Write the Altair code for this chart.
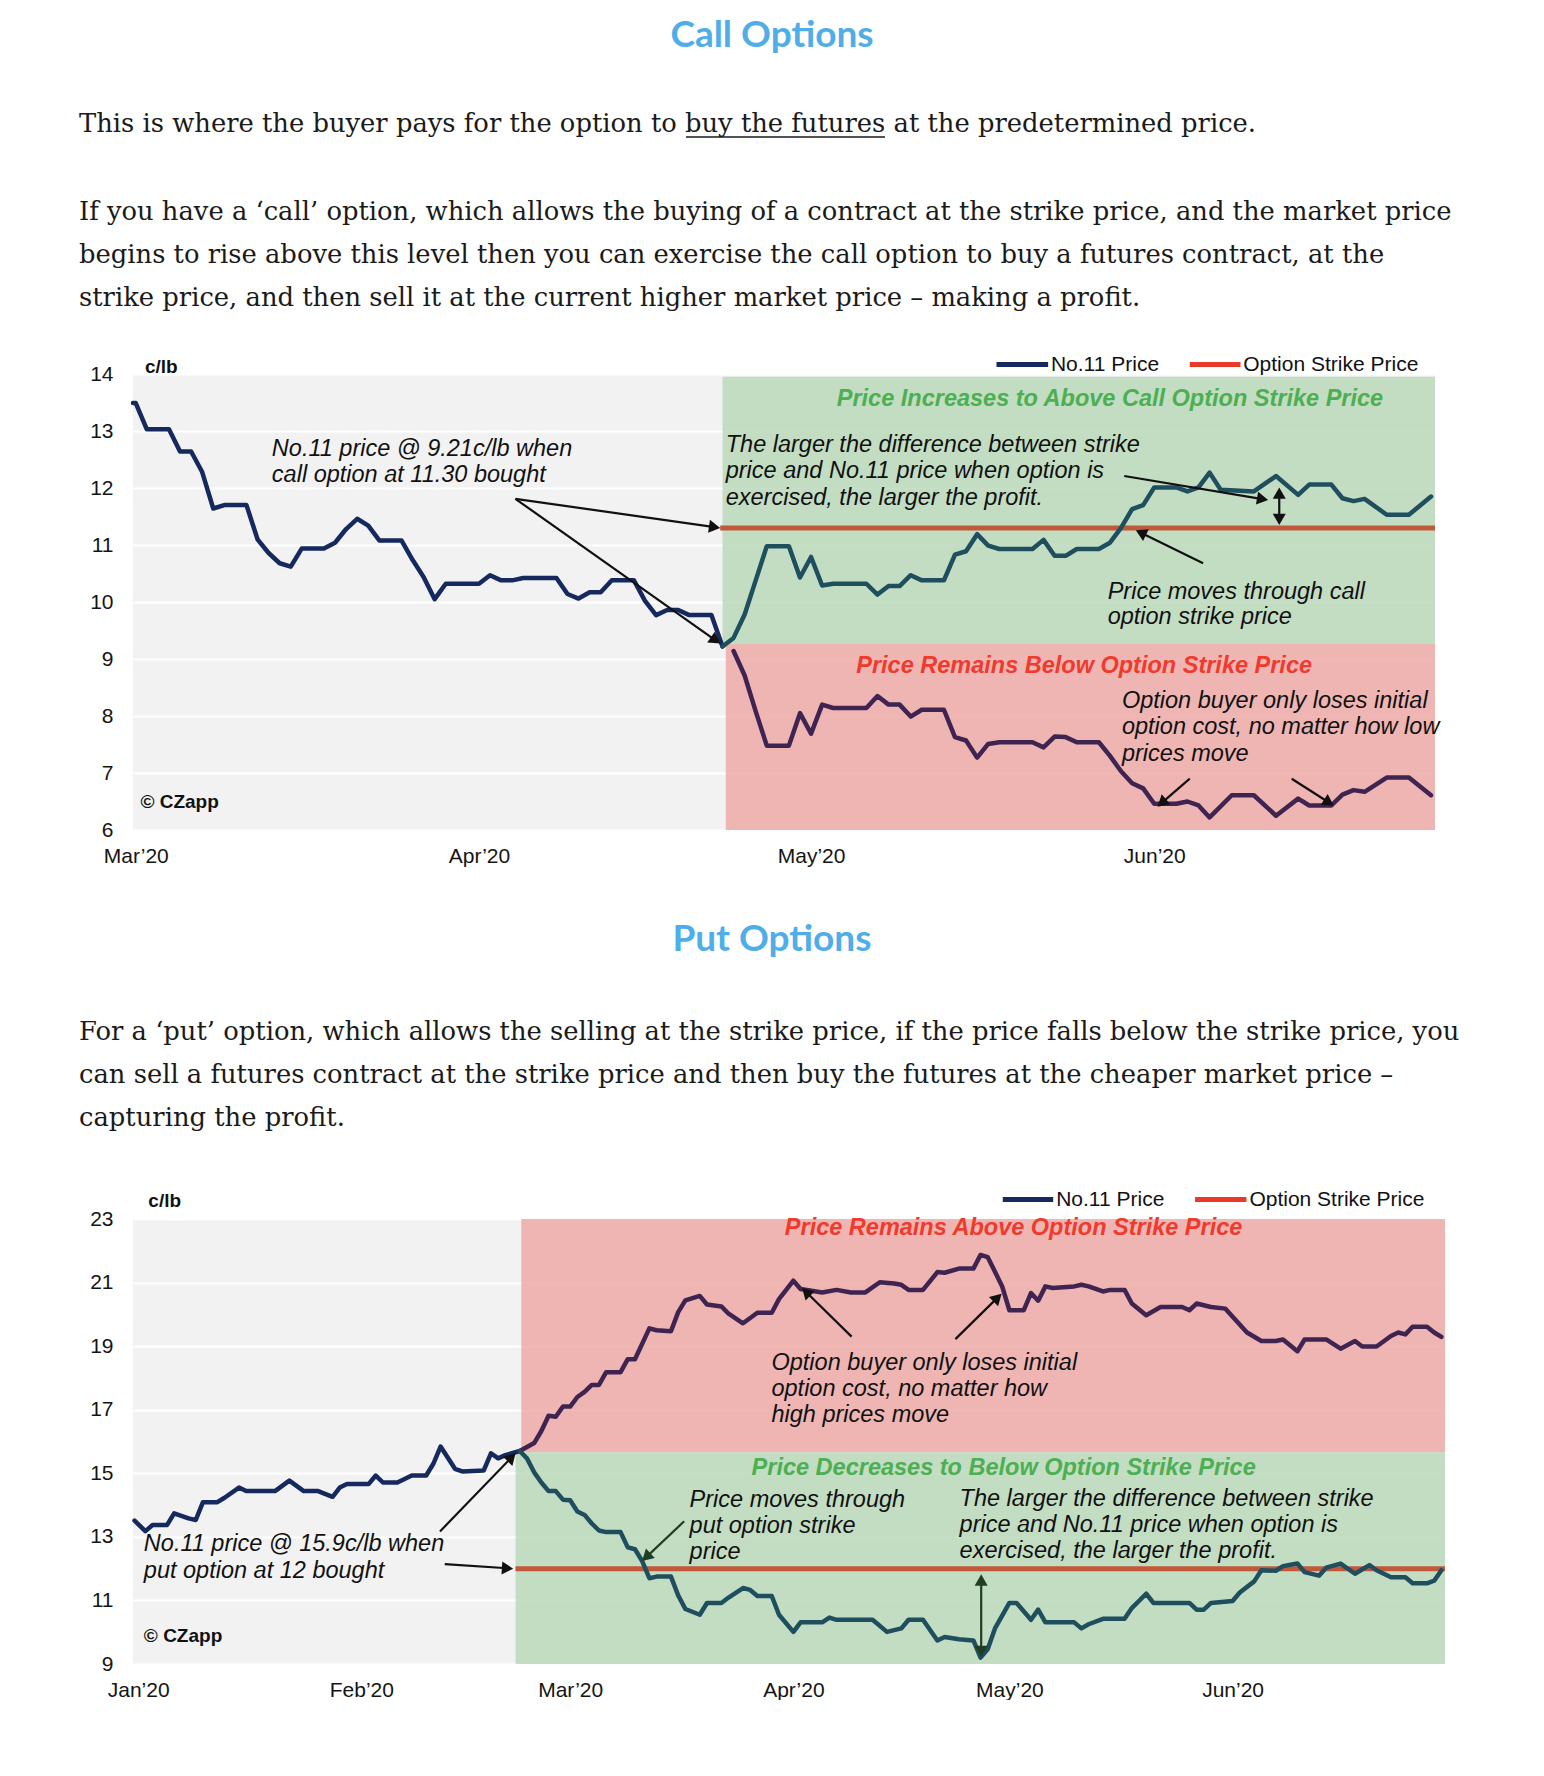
import math
import altair as alt
import pandas as pd

# ---------------------------------------------------------------- page text
CALL_TITLE = "Call Options"
CALL_PARAGRAPH = [
    "This is where the buyer pays for the option to buy the futures at the predetermined price.",
    "If you have a \u2018call\u2019 option, which allows the buying of a contract at the strike price, and the market price",
    "begins to rise above this level then you can exercise the call option to buy a futures contract, at the",
    "strike price, and then sell it at the current higher market price \u2013 making a profit.",
]
PUT_TITLE = "Put Options"
PUT_PARAGRAPH = [
    "For a \u2018put\u2019 option, which allows the selling at the strike price, if the price falls below the strike price, you",
    "can sell a futures contract at the strike price and then buy the futures at the cheaper market price \u2013",
    "capturing the profit.",
]

# ---------------------------------------------------------------- call chart data
CALL_MAIN_DATES = ["2020-02-29T18:00", "2020-03-01", "2020-03-02", "2020-03-04", "2020-03-05", "2020-03-06",
                   "2020-03-07", "2020-03-08", "2020-03-09", "2020-03-11", "2020-03-12", "2020-03-13",
                   "2020-03-14", "2020-03-15", "2020-03-16", "2020-03-18", "2020-03-19", "2020-03-20",
                   "2020-03-21", "2020-03-22", "2020-03-23", "2020-03-25", "2020-03-26", "2020-03-27",
                   "2020-03-28", "2020-03-29", "2020-04-01", "2020-04-02", "2020-04-03", "2020-04-04",
                   "2020-04-05", "2020-04-08", "2020-04-09", "2020-04-10", "2020-04-11", "2020-04-12",
                   "2020-04-13", "2020-04-15", "2020-04-16", "2020-04-17", "2020-04-18", "2020-04-19",
                   "2020-04-20", "2020-04-22", "2020-04-23"]
CALL_MAIN_PRICES = [13.49, 13.49, 13.03, 13.03, 12.64, 12.64,
                    12.28, 11.64, 11.70, 11.70, 11.10, 10.86,
                    10.68, 10.62, 10.94, 10.94, 11.04, 11.28,
                    11.46, 11.34, 11.08, 11.08, 10.74, 10.44,
                    10.05, 10.32, 10.32, 10.47, 10.38, 10.38,
                    10.42, 10.42, 10.14, 10.06, 10.17, 10.17,
                    10.38, 10.38, 10.02, 9.77, 9.86, 9.86,
                    9.77, 9.77, 9.22]

CALL_UP_DATES = ["2020-04-23", "2020-04-24", "2020-04-25", "2020-04-26", "2020-04-27", "2020-04-29",
                 "2020-04-30", "2020-05-01", "2020-05-02", "2020-05-03", "2020-05-06", "2020-05-07",
                 "2020-05-08", "2020-05-09", "2020-05-10", "2020-05-11", "2020-05-13", "2020-05-14",
                 "2020-05-15", "2020-05-16", "2020-05-17", "2020-05-18", "2020-05-21", "2020-05-22",
                 "2020-05-23", "2020-05-24", "2020-05-25", "2020-05-27", "2020-05-28", "2020-05-29",
                 "2020-05-30", "2020-05-31", "2020-06-01", "2020-06-03", "2020-06-04", "2020-06-05",
                 "2020-06-06", "2020-06-07", "2020-06-10", "2020-06-12", "2020-06-14", "2020-06-15",
                 "2020-06-17", "2020-06-18", "2020-06-19", "2020-06-20", "2020-06-22", "2020-06-24",
                 "2020-06-26"]
CALL_UP_PRICES = [9.22, 9.37, 9.78, 10.38, 10.98, 10.98,
                  10.43, 10.79, 10.29, 10.32, 10.32, 10.13,
                  10.28, 10.28, 10.47, 10.38, 10.38, 10.83,
                  10.89, 11.19, 10.99, 10.93, 10.93, 11.09,
                  10.81, 10.81, 10.93, 10.93, 11.04, 11.30,
                  11.63, 11.70, 12.01, 12.01, 11.94, 12.01,
                  12.27, 11.97, 11.94, 12.21, 11.88, 12.06,
                  12.06, 11.82, 11.77, 11.81, 11.53, 11.53,
                  11.85]

CALL_DOWN_DATES = ["2020-04-24", "2020-04-25", "2020-04-26", "2020-04-27", "2020-04-29", "2020-04-30",
                   "2020-05-01", "2020-05-02", "2020-05-03", "2020-05-06", "2020-05-07", "2020-05-08",
                   "2020-05-09", "2020-05-10", "2020-05-11", "2020-05-13", "2020-05-14", "2020-05-15",
                   "2020-05-16", "2020-05-17", "2020-05-18", "2020-05-21", "2020-05-22", "2020-05-23",
                   "2020-05-24", "2020-05-25", "2020-05-27", "2020-05-28", "2020-05-29", "2020-05-30",
                   "2020-05-31", "2020-06-01", "2020-06-03", "2020-06-04", "2020-06-05", "2020-06-06",
                   "2020-06-08", "2020-06-10", "2020-06-12", "2020-06-14", "2020-06-15", "2020-06-17",
                   "2020-06-18", "2020-06-19", "2020-06-20", "2020-06-22", "2020-06-24", "2020-06-26"]
CALL_DOWN_PRICES = [9.14, 8.71, 8.08, 7.48, 7.48, 8.05,
                    7.69, 8.20, 8.14, 8.14, 8.35, 8.20,
                    8.20, 7.99, 8.11, 8.11, 7.63, 7.57,
                    7.27, 7.51, 7.54, 7.54, 7.45, 7.64,
                    7.63, 7.54, 7.54, 7.30, 7.03, 6.82,
                    6.73, 6.46, 6.46, 6.50, 6.43, 6.22,
                    6.61, 6.61, 6.25, 6.55, 6.43, 6.43,
                    6.62, 6.70, 6.67, 6.92, 6.92, 6.61]

CALL_STRIKE = 11.30
CALL_SPLIT = 9.27
CALL_Y_TICKS = [6, 7, 8, 9, 10, 11, 12, 13, 14]
CALL_MONTHS = ["2020-03-01", "2020-04-01", "2020-05-01", "2020-06-01"]

CALL_NOTES = [
    ("The larger the difference between strike", "2020-04-23T07:00", 12.75),
    ("price and No.11 price when option is", "2020-04-23T07:00", 12.29),
    ("exercised, the larger the profit.", "2020-04-23T07:00", 11.83),
    ("No.11 price @ 9.21c/lb when", "2020-03-13T07:00", 12.69),
    ("call option at 11.30 bought", "2020-03-13T07:00", 12.23),
    ("Price moves through call", "2020-05-27T19:00", 10.18),
    ("option strike price", "2020-05-27T19:00", 9.73),
    ("Option buyer only loses initial", "2020-05-29T02:00", 8.26),
    ("option cost, no matter how low", "2020-05-29T02:00", 7.80),
    ("prices move", "2020-05-29T02:00", 7.34),
]
CALL_HEADS = [
    ("Price Increases to Above Call Option Strike Price", "2020-05-28T00:00", 13.56, "green"),
    ("Price Remains Below Option Strike Price", "2020-05-25T16:00", 8.87, "red"),
]
CALL_BOLD = [("c/lb", "2020-03-01T20:00", 14.12), ("\u00a9 CZapp", "2020-03-01T10:00", 6.49)]
CALL_LEGEND = [("No.11 Price", "2020-05-17T18:00", "2020-05-22T10:00", "2020-05-22T16:00", "navy"),
               ("Option Strike Price", "2020-06-04T05:00", "2020-06-08T19:00", "2020-06-09T01:00", "red")]
CALL_LEGEND_Y = 14.165
CALL_ARROWS = [
    ("2020-04-04T07:00", 11.81, "2020-04-22T19:00", 11.30, False, "black"),
    ("2020-04-04T07:00", 11.81, "2020-04-22T19:00", 9.27, False, "black"),
    ("2020-05-29T07:00", 12.21, "2020-06-11T07:00", 11.79, False, "black"),
    ("2020-06-12T07:00", 12.01, "2020-06-12T07:00", 11.35, True, "black"),
    ("2020-06-05T10:00", 10.68, "2020-05-30T08:00", 11.26, False, "black"),
    ("2020-06-04T05:00", 6.90, "2020-06-01T07:00", 6.41, False, "black"),
    ("2020-06-13T10:00", 6.90, "2020-06-17T05:00", 6.43, False, "black"),
]

# ---------------------------------------------------------------- put chart data
PUT_MAIN_DATES = ["2019-12-31T12:00", "2020-01-02", "2020-01-03", "2020-01-05", "2020-01-06", "2020-01-08",
                  "2020-01-09", "2020-01-10", "2020-01-12", "2020-01-13", "2020-01-15", "2020-01-16",
                  "2020-01-20", "2020-01-22", "2020-01-24", "2020-01-26", "2020-01-28", "2020-01-29",
                  "2020-01-30", "2020-02-02", "2020-02-03", "2020-02-04", "2020-02-06", "2020-02-08",
                  "2020-02-10", "2020-02-11", "2020-02-12", "2020-02-14", "2020-02-15", "2020-02-18",
                  "2020-02-19", "2020-02-20", "2020-02-21", "2020-02-23"]
PUT_MAIN_PRICES = [13.51, 13.18, 13.37, 13.37, 13.74, 13.58,
                   13.53, 14.09, 14.09, 14.23, 14.55, 14.44,
                   14.44, 14.77, 14.44, 14.44, 14.26, 14.55,
                   14.66, 14.66, 14.93, 14.71, 14.71, 14.93,
                   14.93, 15.30, 15.84, 15.14, 15.06, 15.09,
                   15.63, 15.47, 15.57, 15.70]

PUT_UP_DATES = ["2020-02-23", "2020-02-25", "2020-02-26", "2020-02-27", "2020-02-28", "2020-02-29",
                "2020-03-01", "2020-03-02", "2020-03-03", "2020-03-04", "2020-03-05", "2020-03-06",
                "2020-03-08", "2020-03-09", "2020-03-10", "2020-03-12", "2020-03-13", "2020-03-15",
                "2020-03-16", "2020-03-17", "2020-03-19", "2020-03-20", "2020-03-22", "2020-03-23",
                "2020-03-25", "2020-03-27", "2020-03-29", "2020-03-30", "2020-04-01", "2020-04-02",
                "2020-04-05", "2020-04-07", "2020-04-09", "2020-04-11", "2020-04-13", "2020-04-15",
                "2020-04-16", "2020-04-17", "2020-04-19", "2020-04-21", "2020-04-22", "2020-04-24",
                "2020-04-26", "2020-04-27", "2020-04-28", "2020-04-30", "2020-05-01", "2020-05-03",
                "2020-05-04", "2020-05-05", "2020-05-06", "2020-05-07", "2020-05-10", "2020-05-11",
                "2020-05-12", "2020-05-14", "2020-05-15", "2020-05-17", "2020-05-18", "2020-05-20",
                "2020-05-22", "2020-05-25", "2020-05-26", "2020-05-27", "2020-05-29", "2020-05-31",
                "2020-06-03", "2020-06-05", "2020-06-07", "2020-06-08", "2020-06-10", "2020-06-11",
                "2020-06-14", "2020-06-16", "2020-06-18", "2020-06-19", "2020-06-21", "2020-06-23",
                "2020-06-24", "2020-06-25", "2020-06-26", "2020-06-28", "2020-06-29", "2020-06-30"]
PUT_UP_PRICES = [15.70, 15.95, 16.33, 16.81, 16.78, 17.10,
                 17.10, 17.40, 17.56, 17.78, 17.78, 18.18,
                 18.18, 18.59, 18.59, 19.56, 19.50, 19.47,
                 20.07, 20.44, 20.58, 20.31, 20.25, 20.02,
                 19.72, 20.05, 20.05, 20.48, 21.06, 20.80,
                 20.69, 20.77, 20.69, 20.69, 21.01, 20.97,
                 20.93, 20.77, 20.77, 21.33, 21.31, 21.44,
                 21.44, 21.87, 21.80, 20.88, 20.13, 20.13,
                 20.67, 20.43, 20.88, 20.83, 20.88, 20.93,
                 20.88, 20.72, 20.77, 20.77, 20.34, 19.97,
                 20.23, 20.23, 20.13, 20.34, 20.23, 20.18,
                 19.43, 19.16, 19.16, 19.21, 18.84, 19.21,
                 19.21, 18.92, 19.16, 18.99, 18.99, 19.32,
                 19.43, 19.37, 19.61, 19.61, 19.43, 19.29]

PUT_DOWN_DATES = ["2020-02-23", "2020-02-24", "2020-02-25", "2020-02-26", "2020-02-27", "2020-02-28",
                  "2020-02-29", "2020-03-01", "2020-03-02", "2020-03-03", "2020-03-04", "2020-03-05",
                  "2020-03-06", "2020-03-08", "2020-03-09", "2020-03-10", "2020-03-11", "2020-03-12",
                  "2020-03-13", "2020-03-15", "2020-03-16", "2020-03-17", "2020-03-19", "2020-03-20",
                  "2020-03-22", "2020-03-23", "2020-03-25", "2020-03-26", "2020-03-27", "2020-03-29",
                  "2020-03-30", "2020-04-01", "2020-04-02", "2020-04-05", "2020-04-06", "2020-04-07",
                  "2020-04-12", "2020-04-14", "2020-04-16", "2020-04-17", "2020-04-19", "2020-04-21",
                  "2020-04-22", "2020-04-24", "2020-04-26", "2020-04-27", "2020-04-28", "2020-04-29",
                  "2020-05-01", "2020-05-02", "2020-05-04", "2020-05-05", "2020-05-06", "2020-05-10",
                  "2020-05-11", "2020-05-12", "2020-05-14", "2020-05-17", "2020-05-18", "2020-05-20",
                  "2020-05-21", "2020-05-26", "2020-05-27", "2020-05-28", "2020-05-29", "2020-06-01",
                  "2020-06-02", "2020-06-04", "2020-06-05", "2020-06-07", "2020-06-08", "2020-06-10",
                  "2020-06-11", "2020-06-13", "2020-06-14", "2020-06-16", "2020-06-18", "2020-06-20",
                  "2020-06-21", "2020-06-23", "2020-06-25", "2020-06-26", "2020-06-28", "2020-06-29",
                  "2020-06-30"]
PUT_DOWN_PRICES = [15.70, 15.47, 15.03, 14.71, 14.44, 14.44,
                   14.17, 14.15, 13.80, 13.69, 13.42, 13.20,
                   13.15, 13.15, 12.67, 12.61, 12.24, 11.70,
                   11.75, 11.75, 11.16, 10.73, 10.55, 10.92,
                   10.92, 11.09, 11.39, 11.33, 11.14, 11.14,
                   10.55, 10.01, 10.31, 10.31, 10.46, 10.39,
                   10.39, 10.01, 10.12, 10.39, 10.39, 9.74,
                   9.85, 9.78, 9.74, 9.20, 9.47, 10.12,
                   10.92, 10.92, 10.39, 10.71, 10.31, 10.31,
                   10.12, 10.25, 10.42, 10.42, 10.76, 11.21,
                   10.92, 10.92, 10.71, 10.71, 10.92, 10.98,
                   11.25, 11.60, 11.95, 11.93, 12.08, 12.16,
                   11.89, 11.78, 12.03, 12.16, 11.84, 12.11,
                   11.95, 11.73, 11.73, 11.54, 11.54, 11.62,
                   11.95]

PUT_STRIKE = 12.0
PUT_SPLIT = 15.66
PUT_Y_TICKS = [9, 11, 13, 15, 17, 19, 21, 23]
PUT_MONTHS = ["2020-01-01", "2020-02-01", "2020-03-01", "2020-04-01", "2020-05-01", "2020-06-01"]

PUT_NOTES = [
    ("Option buyer only loses initial", "2020-03-28T23:00", 18.48),
    ("option cost, no matter how", "2020-03-28T23:00", 17.66),
    ("high prices move", "2020-03-28T23:00", 16.84),
    ("Price moves through", "2020-03-17T14:00", 14.17),
    ("put option strike", "2020-03-17T14:00", 13.35),
    ("price", "2020-03-17T14:00", 12.53),
    ("The larger the difference between strike", "2020-04-24T02:00", 14.20),
    ("price and No.11 price when option is", "2020-04-24T02:00", 13.38),
    ("exercised, the larger the profit.", "2020-04-24T02:00", 12.57),
    ("No.11 price @ 15.9c/lb when", "2020-01-01T19:00", 12.78),
    ("put option at 12 bought", "2020-01-01T19:00", 11.93),
]
PUT_HEADS = [
    ("Price Remains Above Option Strike Price", "2020-05-01T14:00", 22.72, "red"),
    ("Price Decreases to Below Option Strike Price", "2020-04-30T05:00", 15.17, "green"),
]
PUT_BOLD = [("c/lb", "2020-01-02T10:00", 23.57), ("\u00a9 CZapp", "2020-01-01T19:00", 9.89)]
PUT_LEGEND = [("No.11 Price", "2020-04-30T02:00", "2020-05-07T02:00", "2020-05-07T12:00", "navy"),
              ("Option Strike Price", "2020-05-26T19:00", "2020-06-02T22:00", "2020-06-03T08:00", "red")]
PUT_LEGEND_Y = 23.61
PUT_ARROWS = [
    ("2020-02-11T22:00", 13.17, "2020-02-22T10:00", 15.63, False, "black"),
    ("2020-02-12T14:00", 12.14, "2020-02-22T02:00", 12.00, False, "black"),
    ("2020-04-09T02:00", 19.30, "2020-04-02T05:00", 20.83, False, "black"),
    ("2020-04-23T12:00", 19.22, "2020-04-29T22:00", 20.65, False, "black"),
    ("2020-03-16T20:00", 13.49, "2020-03-11T00:00", 12.24, False, "dark"),
    ("2020-04-27T02:00", 11.82, "2020-04-27T02:00", 9.22, True, "dark"),
]

# ---------------------------------------------------------------- styles / layout
FONT = "Liberation Sans"
SERIF = "DejaVu Serif"
TITLE_FONT = "Lato"
BLUE = "#4FAEE8"
BODY = "#1A1A1A"
AXIS_C = "#141414"
NAVY = "#15295F"
TEAL = "#1F4F5E"
PURPLE = "#3F2452"
STRIKE_C = "#C0583A"
LEG_RED = "#E8392B"
GREEN_FILL = "#BBDABB"
RED_FILL = "#EEABA9"
COLORS = {"green": "#4CAF52", "red": "#EE3B2E", "navy": NAVY, "black": "#111111", "dark": "#1F3F22"}

PAGE_W = 1544
PLOT_LEFT = 133
TEXT_LEFT = 79
HEAD1_H = 374
HEAD2_H = 389
C1_W, C1_H = 1302, 456
C2_W, C2_H = 1312, 445
HEAD_SIZE = 170
HEAD_H = math.sqrt(3) * math.sqrt(HEAD_SIZE) / 4.0
NOTE_SIZE = 23.5
PARA_SIZE = 25.8


def todt(values):
    return pd.to_datetime(list(values), format="ISO8601")


def ts(s):
    return pd.Timestamp(s)


def dt(t):
    t = pd.Timestamp(t)
    return alt.DateTime(year=t.year, month=t.month, date=t.day, hours=t.hour, minutes=t.minute)


def build_chart(c):
    start, end = ts(c["start"]), ts(c["end"])
    W, H, ylo, yhi = c["W"], c["H"], c["ylo"], c["yhi"]
    span = end - start

    def px(t):
        return (ts(t) - start) / span * W

    def py(v):
        return (yhi - v) / (yhi - ylo) * H

    def ix(p):
        return start + span * (p / W)

    def iy(p):
        return yhi - p / H * (yhi - ylo)

    X = alt.X("date:T", title=None, scale=alt.Scale(domain=[dt(start), dt(end)]),
              axis=alt.Axis(values=[dt(m) for m in c["months"]], format="%b\u2019%y", grid=False,
                            ticks=False, tickSize=0, domain=False, labelPadding=15, labelFontSize=21,
                            labelFont=FONT, labelColor=AXIS_C, labelFlush=False, labelOverlap=False))
    Y = alt.Y("value:Q", title=None, scale=alt.Scale(domain=[ylo, yhi], nice=False, zero=False),
              axis=alt.Axis(values=c["yticks"], grid=True, gridColor="#FFFFFF", gridWidth=2, ticks=False,
                            tickSize=0, domain=False, labelPadding=20, labelFontSize=21, labelFont=FONT,
                            labelColor=AXIS_C, labelFlush=False, labelOverlap=False))

    layers = []
    regions = pd.DataFrame({
        "date": todt(r[0] for r in c["regions"]),
        "date2": [end] * len(c["regions"]),
        "value": [r[1] for r in c["regions"]],
        "value2": [r[2] for r in c["regions"]],
        "fill": [r[3] for r in c["regions"]],
    })
    layers.append(alt.Chart(regions).mark_rect(opacity=0.86).encode(
        x=X, x2=alt.X2("date2"), y=Y, y2=alt.Y2("value2"), fill=alt.Fill("fill:N", scale=None)))

    strike = pd.DataFrame({"date": [ts(c["strike_start"])], "date2": [end], "value": [c["strike"]]})
    layers.append(alt.Chart(strike).mark_rule(color=STRIKE_C, strokeWidth=5).encode(
        x=X, x2=alt.X2("date2"), y=Y))

    for dates, vals, col in c["lines"]:
        df = pd.DataFrame({"date": todt(dates), "value": vals})
        layers.append(alt.Chart(df).mark_line(color=col, strokeWidth=4.5, strokeJoin="round",
                                              strokeCap="round").encode(x=X, y=Y))

    # arrows
    for colkey in ("black", "dark"):
        rows, heads = [], []
        for a, va, b, vb, dbl, ck in c["arrows"]:
            if ck != colkey:
                continue
            ends = [(a, va, b, vb)] + ([(b, vb, a, va)] if dbl else [])
            x0, y0, x1, y1 = px(a), py(va), px(b), py(vb)
            L = math.hypot(x1 - x0, y1 - y0)
            ux, uy = (x1 - x0) / L, (y1 - y0) / L
            sx0, sy0 = (x0 + ux * HEAD_H, y0 + uy * HEAD_H) if dbl else (x0, y0)
            sx1, sy1 = x1 - ux * HEAD_H, y1 - uy * HEAD_H
            rows.append({"date": ix(sx0), "date2": ix(sx1), "value": iy(sy0), "value2": iy(sy1)})
            for fa, fva, ea, eva in ends:
                fx, fy, ex, ey = px(fa), py(fva), px(ea), py(eva)
                dx, dy = ex - fx, ey - fy
                l2 = math.hypot(dx, dy)
                cx, cy = ex - dx / l2 * HEAD_H, ey - dy / l2 * HEAD_H
                ang = math.degrees(math.atan2(dx, -dy)) % 360
                heads.append({"date": ix(cx), "value": iy(cy), "angle": ang})
        if not rows:
            continue
        col = COLORS[colkey]
        layers.append(alt.Chart(pd.DataFrame(rows)).mark_rule(color=col, strokeWidth=2.2).encode(
            x=X, x2=alt.X2("date2"), y=Y, y2=alt.Y2("value2")))
        layers.append(alt.Chart(pd.DataFrame(heads)).mark_point(
            shape="triangle-up", filled=True, size=HEAD_SIZE, color=col, opacity=1, strokeWidth=0).encode(
            x=X, y=Y, angle=alt.Angle("angle:Q", scale=None)))

    # notes
    notes = pd.DataFrame({"t": [n[0] for n in c["notes"]], "date": todt(n[1] for n in c["notes"]),
                          "value": [n[2] for n in c["notes"]]})
    layers.append(alt.Chart(notes).mark_text(font=FONT, fontStyle="italic", fontSize=NOTE_SIZE,
                                             color="#111111", align="left", baseline="middle").encode(
        x=X, y=Y, text="t:N"))
    heads_df = pd.DataFrame({"t": [n[0] for n in c["heads"]], "date": todt(n[1] for n in c["heads"]),
                             "value": [n[2] for n in c["heads"]], "col": [COLORS[n[3]] for n in c["heads"]]})
    layers.append(alt.Chart(heads_df).mark_text(font=FONT, fontStyle="italic", fontWeight="bold",
                                                fontSize=NOTE_SIZE, align="center", baseline="middle").encode(
        x=X, y=Y, text="t:N", color=alt.Color("col:N", scale=None)))
    bold = pd.DataFrame({"t": [n[0] for n in c["bold"]], "date": todt(n[1] for n in c["bold"]),
                         "value": [n[2] for n in c["bold"]]})
    layers.append(alt.Chart(bold).mark_text(font=FONT, fontWeight="bold", fontSize=19, color="#111111",
                                            align="left", baseline="middle").encode(x=X, y=Y, text="t:N"))

    # legend
    leg = pd.DataFrame({"t": [l[0] for l in c["legend"]],
                        "date": todt(l[1] for l in c["legend"]),
                        "date2": todt(l[2] for l in c["legend"]),
                        "value": [c["legend_y"]] * len(c["legend"]),
                        "col": [NAVY if l[4] == "navy" else LEG_RED for l in c["legend"]]})
    layers.append(alt.Chart(leg).mark_rule(strokeWidth=5).encode(
        x=X, x2=alt.X2("date2"), y=Y, color=alt.Color("col:N", scale=None)))
    legt = pd.DataFrame({"t": [l[0] for l in c["legend"]],
                         "date": todt(l[3] for l in c["legend"]),
                         "value": [c["legend_y"]] * len(c["legend"])})
    layers.append(alt.Chart(legt).mark_text(font=FONT, fontSize=21, color="#111111", align="left",
                                            baseline="middle").encode(x=X, y=Y, text="t:N"))

    return alt.layer(*layers).properties(width=W, height=H,
                                         view=alt.ViewBackground(fill="#F2F2F2", strokeWidth=0))


def header(title, title_base, paragraph, bases, H, extent=False, underline=None):
    one = pd.DataFrame({"k": [0]})
    layers = []
    if extent:
        layers.append(alt.Chart(one).mark_rect(color="#FFFFFF").encode(
            x=alt.value(-PLOT_LEFT), x2=alt.value(PAGE_W - PLOT_LEFT), y=alt.value(0), y2=alt.value(H)))
    layers.append(alt.Chart(pd.DataFrame({"t": [title]})).mark_text(
        font=TITLE_FONT, fontWeight="bold", fontSize=37, color=BLUE, align="center", baseline="alphabetic"
    ).encode(text="t:N", x=alt.value(PAGE_W / 2 - PLOT_LEFT), y=alt.value(title_base)))
    for line, b in zip(paragraph, bases):
        layers.append(alt.Chart(pd.DataFrame({"t": [line]})).mark_text(
            font=SERIF, fontSize=PARA_SIZE, color=BODY, align="left", baseline="alphabetic"
        ).encode(text="t:N", x=alt.value(TEXT_LEFT - PLOT_LEFT), y=alt.value(b)))
    if underline:
        u0, u1, uy = underline
        layers.append(alt.Chart(one).mark_rule(color=BODY, strokeWidth=1.6).encode(
            x=alt.value(u0 - PLOT_LEFT), x2=alt.value(u1 - PLOT_LEFT), y=alt.value(uy)))
    return alt.layer(*layers).properties(width=C1_W, height=H)


call_cfg = dict(
    start="2020-02-29T18:00", end="2020-06-26T08:40", W=C1_W, H=C1_H, ylo=6, yhi=14,
    yticks=CALL_Y_TICKS, months=CALL_MONTHS,
    regions=[("2020-04-23T00:00", CALL_SPLIT, 13.95, GREEN_FILL), ("2020-04-23T07:00", 6, CALL_SPLIT, RED_FILL)],
    strike=CALL_STRIKE, strike_start="2020-04-22T19:00",
    lines=[(CALL_MAIN_DATES, CALL_MAIN_PRICES, NAVY), (CALL_UP_DATES, CALL_UP_PRICES, TEAL),
           (CALL_DOWN_DATES, CALL_DOWN_PRICES, PURPLE)],
    arrows=CALL_ARROWS, notes=CALL_NOTES, heads=CALL_HEADS, bold=CALL_BOLD,
    legend=CALL_LEGEND, legend_y=CALL_LEGEND_Y,
)
put_cfg = dict(
    start="2019-12-31T06:50", end="2020-06-30T12:00", W=C2_W, H=C2_H, ylo=9, yhi=23,
    yticks=PUT_Y_TICKS, months=PUT_MONTHS,
    regions=[("2020-02-23T05:00", PUT_SPLIT, 23, RED_FILL), ("2020-02-22T10:00", 9, PUT_SPLIT, GREEN_FILL)],
    strike=PUT_STRIKE, strike_start="2020-02-22T10:00",
    lines=[(PUT_MAIN_DATES, PUT_MAIN_PRICES, NAVY), (PUT_UP_DATES, PUT_UP_PRICES, PURPLE),
           (PUT_DOWN_DATES, PUT_DOWN_PRICES, TEAL)],
    arrows=PUT_ARROWS, notes=PUT_NOTES, heads=PUT_HEADS, bold=PUT_BOLD,
    legend=PUT_LEGEND, legend_y=PUT_LEGEND_Y,
)

h1 = header(CALL_TITLE, 47, CALL_PARAGRAPH, [132, 220, 263, 306], HEAD1_H, extent=True,
            underline=(686, 885, 137))
c1 = build_chart(call_cfg)
h2 = header(PUT_TITLE, 121, PUT_PARAGRAPH, [210, 253, 296], HEAD2_H)
c2 = build_chart(put_cfg)

chart = alt.vconcat(h1, c1, h2, c2, spacing=0, bounds="flush", padding=0, background="white"
                    ).configure_view(stroke="transparent", strokeWidth=0)

chart.save("out.html", embed_options={"renderer": "svg", "actions": False})
